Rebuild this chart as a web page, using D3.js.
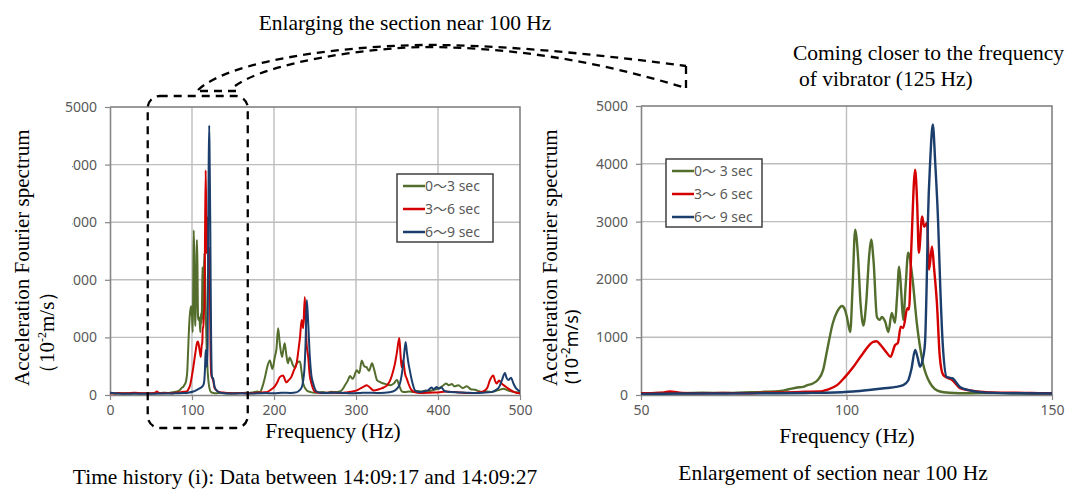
<!DOCTYPE html>
<html>
<head>
<meta charset="utf-8">
<script src="https://cdn.jsdelivr.net/npm/d3@7"></script>
<style>
  body { margin: 0; background: #fff; }
  svg text { font-family: "Noto Sans", "Noto Sans CJK JP", sans-serif; }
  .serif { font-family: "Liberation Serif", "Times New Roman", serif !important; fill: #000; }
</style>
</head>
<body>
<svg id="chart" width="1067" height="489"></svg>
<script>
// Fourier spectrum, [frequency Hz, amplitude 10^-2 m/s]
var spec0to3 = [[0,40],[5,30],[10,25],[20,30],[30,25],[40,30],[50,30],[55,35],[60,30],[65,40],[70,35],[75,45],[80,55],[84,70],[86,100],[88,130],[89.4,140],[90.5,170],[91.8,200],[93,260],[94.3,430],[95.3,780],[96.7,1250],[97.8,1450],[98.9,1540],[99.6,1480],[100.1,1350],[100.9,1090],[101.5,1900],[102.1,2860],[102.8,2400],[103.4,1600],[103.8,1300],[104.1,1200],[104.8,1600],[105.5,2400],[106,2690],[106.6,2300],[107.4,1350],[108.1,1300],[108.6,1350],[109.4,1270],[110.2,1090],[111,1420],[111.8,1250],[112.3,1700],[112.8,2220],[113.3,1800],[113.8,1300],[114.4,1900],[115,2460],[116,2050],[117.1,1250],[118.6,550],[120.3,210],[122.7,60],[125,40],[130,30],[135,35],[140,30],[145,25],[150,30],[155,35],[160,30],[165,40],[170,35],[175,50],[180,60],[183,50],[186,150],[189,310],[192,500],[195,600],[198,450],[201,660],[203,800],[205,1160],[207,900],[209.8,660],[211,750],[213,900],[215,700],[217,550],[219,650],[221,600],[223,520],[225.6,480],[228,560],[231.7,580],[233.5,420],[235.6,200],[240,80],[245,50],[250,40],[255,45],[260,50],[265,40],[270,55],[275,50],[280,60],[283,90],[286.6,170],[290,250],[292.7,330],[296,280],[301,430],[304,380],[307,600],[310,500],[313,480],[316,420],[319.5,550],[322,450],[325.6,260],[330,220],[333.7,200],[338,180],[341.8,170],[346,200],[350,260],[353,150],[356,60],[360,50],[365,60],[370,50],[375,70],[380,60],[385,80],[390,70],[395,90],[400,110],[405,150],[410,200],[413,170],[417,190],[420,150],[425,170],[430,120],[435,150],[440,100],[445,90],[451,60],[455,50],[460,60],[465,50],[470,70],[475,90],[480,110],[485,80],[490,60],[495,50],[500,40]];
var spec3to6 = [[0,30],[5,25],[10,35],[20,30],[30,40],[40,30],[50,30],[55,40],[57,60],[60,35],[65,30],[70,35],[75,30],[80,40],[85,45],[90,55],[93.6,60],[95.2,90],[97.7,170],[99.5,300],[101.6,480],[104,720],[106.5,920],[107.3,930],[108.1,880],[109.8,730],[110.7,660],[111.8,860],[112.5,900],[113.2,1180],[113.8,1160],[114.8,1500],[115.2,1480],[115.8,2600],[116.7,3900],[117.2,3300],[117.6,2460],[118.4,3090],[118.9,2910],[119.6,2980],[120.1,2170],[120.8,2570],[121.3,2200],[122,1590],[122.7,660],[123.5,350],[124.5,300],[125.7,260],[127.6,120],[130,80],[134,50],[140,40],[145,35],[150,30],[160,35],[170,30],[180,40],[186,45],[191,50],[196,90],[201,150],[204,220],[207,310],[211,340],[215,220],[218,260],[221,310],[224,420],[227.6,550],[230,800],[231.7,1000],[233.7,1300],[235.6,1160],[237.6,1700],[239.7,900],[241.7,660],[243.5,350],[245.7,200],[249.8,60],[255,40],[260,35],[270,40],[280,35],[290,50],[296,60],[301,80],[306,120],[310,150],[313,170],[317,130],[321.5,80],[326,90],[330,110],[333.7,130],[338,170],[341.8,260],[345,400],[347.6,550],[350,750],[352.8,990],[354.3,700],[355.7,480],[357.5,600],[359.8,370],[362,280],[363.9,200],[367,100],[370,60],[375,40],[380,35],[390,40],[400,45],[410,60],[420,50],[430,40],[440,35],[450,45],[455,60],[460,120],[463.4,260],[467.5,340],[469.5,250],[471.5,200],[474.5,250],[477.6,200],[482,150],[485.8,110],[491.9,60],[495,40],[500,30]];
var spec6to9 = [[0,40],[5,30],[10,25],[20,20],[30,25],[40,20],[50,20],[60,25],[70,25],[80,30],[90,35],[95,40],[101.6,60],[106,90],[109.8,120],[112,140],[113.8,170],[115,250],[115.8,450],[116.7,780],[117.3,650],[117.9,490],[118.5,600],[119.1,900],[119.5,1900],[119.8,2980],[120.4,4100],[121,4680],[121.6,4000],[122.3,2980],[122.8,1900],[123.4,900],[124.4,310],[125,300],[125.7,290],[127.6,140],[130,80],[132.5,50],[140,30],[150,25],[160,30],[170,25],[180,30],[190,35],[200,30],[210,40],[220,35],[228,50],[231,80],[233.7,130],[237,430],[238.5,900],[240,1650],[241.7,1250],[243.7,660],[245.5,350],[247.8,200],[252,60],[257,40],[265,35],[275,40],[285,35],[295,30],[305,35],[315,40],[325,35],[335,40],[345,60],[350,110],[353.6,200],[357.7,550],[360.5,920],[362,750],[364,550],[366,400],[368,260],[372,80],[377,50],[382,60],[388,80],[392,130],[395,100],[398,140],[401,110],[404,130],[408,70],[415,50],[425,45],[435,40],[445,35],[455,40],[465,50],[470,80],[475,150],[478,260],[481.7,380],[483.5,300],[485.8,260],[489,300],[492,200],[495,120],[498,80],[500,60]];

var seriesColors = ["#536d2c", "#d40000", "#1b3e6d"];
var legendLeft = ["0〜3 sec", "3〜6 sec", "6〜9 sec"];
var legendRight = ["0〜 3 sec", "3〜 6 sec", "6〜 9 sec"];
var valueTicks = [0, 1000, 2000, 3000, 4000, 5000];
var freqTicksLeft = [0, 100, 200, 300, 400, 500];
var freqTicksRight = [50, 100, 150];

var svg = d3.select("#chart");
var allSeries = [spec0to3, spec3to6, spec6to9];

function drawPanel(p) {
    var x = d3.scaleLinear().domain(p.xDomain).range([p.left, p.right]);
    var y = d3.scaleLinear().domain([0, 5000]).range([p.bottom, p.top]);
    var g = svg.append("g");

    g.selectAll(".hgrid")
        .data(valueTicks.slice(1, -1))
        .enter().append("line")
        .attr("x1", p.left).attr("x2", p.right)
        .attr("y1", y).attr("y2", y)
        .attr("stroke", "#bdbdbd").attr("stroke-width", 1.4);

    g.selectAll(".vgrid")
        .data(p.xTicks.slice(1, -1))
        .enter().append("line")
        .attr("x1", x).attr("x2", x)
        .attr("y1", p.top).attr("y2", p.bottom)
        .attr("stroke", "#bdbdbd").attr("stroke-width", 1.4);

    g.append("path")
        .attr("d", "M" + p.left + "," + p.top + "H" + p.right + "V" + p.bottom)
        .attr("fill", "none").attr("stroke", "#7a7a7a").attr("stroke-width", 1.5);

    var xa = g.append("g")
        .attr("transform", "translate(0," + p.bottom + ")")
        .call(d3.axisBottom(x).tickValues(p.xTicks).tickSize(5).tickSizeOuter(0).tickPadding(5).tickFormat(d3.format("d")));
    var ya = g.append("g")
        .attr("transform", "translate(" + p.left + ",0)")
        .call(d3.axisLeft(y).tickValues(valueTicks).tickSize(5).tickSizeOuter(0).tickPadding(8).tickFormat(d3.format("d")));
    [xa, ya].forEach(function (a) {
        a.select(".domain").attr("stroke", "#868686").attr("stroke-width", 1.6);
        a.selectAll(".tick line").attr("stroke", "#868686").attr("stroke-width", 1.2);
        a.selectAll(".tick text").attr("fill", "#595959").style("font-size", "14px");
    });

    svg.append("clipPath").attr("id", "clip" + p.name)
        .append("rect")
        .attr("x", p.left).attr("y", p.top - 10)
        .attr("width", p.right - p.left).attr("height", p.bottom - p.top + 10);

    var line = d3.line()
        .x(function (d) { return x(d[0]); })
        .y(function (d) { return y(d[1]); })
        .curve(d3.curveMonotoneX);

    g.append("g").attr("clip-path", "url(#clip" + p.name + ")")
        .selectAll("path")
        .data(allSeries)
        .enter().append("path")
        .attr("d", line)
        .attr("fill", "none")
        .attr("stroke", function (d, i) { return seriesColors[i]; })
        .attr("stroke-width", p.lineWidth)
        .attr("stroke-linejoin", "round");

    // legend
    var lg = g.append("g").attr("transform", "translate(" + p.legendX + "," + p.legendY + ")");
    lg.append("rect")
        .attr("width", 96).attr("height", 68)
        .attr("fill", "#fff").attr("stroke", "#404040").attr("stroke-width", 1.5);
    var row = lg.selectAll(".row").data(p.legend).enter().append("g")
        .attr("transform", function (d, i) { return "translate(0," + (12 + i * 23) + ")"; });
    row.append("line")
        .attr("x1", 6).attr("x2", 28)
        .attr("stroke", function (d, i) { return seriesColors[i]; })
        .attr("stroke-width", 2.5);
    row.append("text")
        .attr("x", 28).attr("dy", "0.35em")
        .attr("fill", "#595959").style("font-size", "14px")
        .text(function (d) { return d; });

    return { x: x, y: y };
}

var left = drawPanel({
    name: "L", xDomain: [0, 500], xTicks: freqTicksLeft,
    left: 110, right: 520, top: 107, bottom: 395, lineWidth: 2,
    legend: legendLeft, legendX: 397, legendY: 174
});
drawPanel({
    name: "R", xDomain: [50, 150], xTicks: freqTicksRight,
    left: 641, right: 1052, top: 106, bottom: 395, lineWidth: 2.4,
    legend: legendRight, legendX: 666, legendY: 159
});

// left y title sits over the first digit of the tick labels
svg.append("rect").attr("x", 0).attr("y", 118).attr("width", 72).attr("height", 272).attr("fill", "#fff");

function yTitle(xBase, xBase2, sansSecond) {
    svg.append("text").attr("class", "serif")
        .attr("transform", "translate(" + xBase + ",386) rotate(-90)")
        .style("font-size", "21px")
        .text("Acceleration Fourier spectrum");
    var t = svg.append("text")
        .attr("class", sansSecond ? null : "serif")
        .attr("transform", "translate(" + xBase2 + ",384) rotate(-90)")
        .style("font-size", sansSecond ? "18px" : "21px")
        .attr("fill", "#000");
    t.append("tspan").text(sansSecond ? "(10" : "（10");
    t.append("tspan").attr("dy", -8).style("font-size", "12px").text("-2");
    t.append("tspan").attr("dy", 8).text(sansSecond ? "m/s)" : "m/s）");
}
yTitle(29, 54, false);
yTitle(557, 578, true);

function label(txt, x, y, anchor) {
    svg.append("text").attr("class", "serif")
        .attr("x", x).attr("y", y)
        .attr("text-anchor", anchor || "middle")
        .style("font-size", "21.5px")
        .text(txt);
}
label("Frequency (Hz)", 333, 438);
label("Frequency (Hz)", 847, 443);
label("Time history (i): Data between 14:09:17 and 14:09:27", 305, 484);
label("Enlargement of section near 100 Hz", 833, 480);
label("Enlarging the section near 100 Hz", 405, 30);
label("Coming closer to the frequency", 793, 60, "start");
label("of vibrator (125 Hz)", 799, 86, "start");

// dashed annotation: box around the 100 Hz section and the arc to the right panel
var dash = svg.append("g")
    .attr("fill", "none").attr("stroke", "#000")
    .attr("stroke-width", 2.3).attr("stroke-dasharray", "8,6");
var bx0 = left.x(46), bx1 = left.x(168);
dash.append("rect")
    .attr("x", bx0).attr("y", 96)
    .attr("width", bx1 - bx0).attr("height", 332)
    .attr("rx", 12).attr("ry", 12);
dash.append("path").attr("d", "M198,90 C232,58 360,44 440,45 C520,46 610,56 686,66");
dash.append("path").attr("d", "M235,86 C268,62 370,47 430,47 C520,48 600,62 686,88");
dash.append("path").attr("d", "M686,66 V88");
dash.append("path").attr("d", "M200,91 H236");
</script>
</body>
</html>
